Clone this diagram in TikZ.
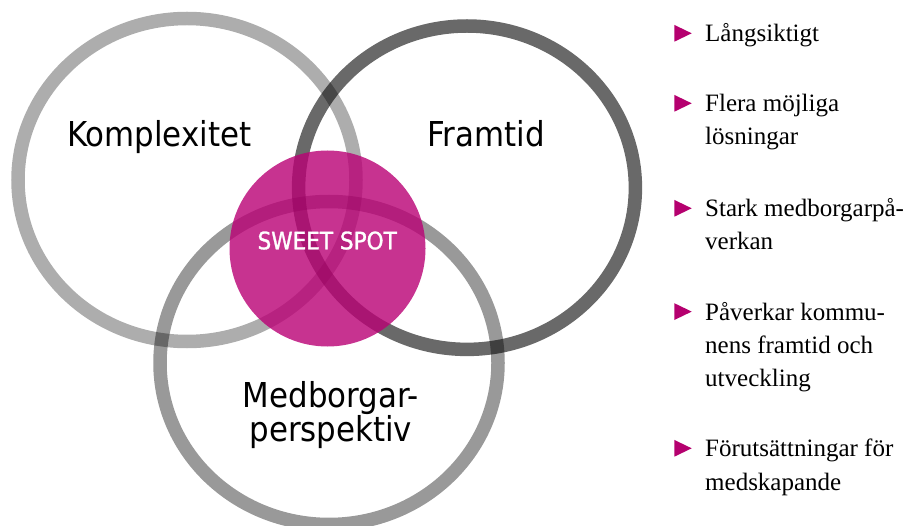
\documentclass[tikz,border=0pt]{standalone}
\usepackage{fontspec}
\setmainfont{Liberation Serif}
\setsansfont{DejaVu Sans Condensed}
\newfontfamily\spotfont[FakeBold=1.2]{DejaVu Sans Condensed}
\usepackage{tikz}
\usetikzlibrary{shapes.geometric, positioning}
\definecolor{SpotMagenta}{HTML}{BA0075}
\definecolor{BulletMagenta}{HTML}{B5006F}
\tikzset{
  % Ring styles
  ring/.style={draw=black, line width=13.5pt},
  lightring/.style={ring, draw opacity=0.32},
  midring/.style={ring, draw opacity=0.40},
  darkring/.style={ring, draw opacity=0.59},
  % Node styles
  spotbox/.style={circle, fill=SpotMagenta, fill opacity=0.8, minimum size=196pt, inner sep=0pt},
  spottext/.style={font=\spotfont\fontsize{24}{28}\selectfont, text=white, inner sep=0pt, anchor=base},
  biglabel/.style={font=\sffamily\fontsize{34.3}{32}\selectfont, inner sep=0pt, text width=220pt, align=center, anchor=base},
  itemtext/.style={font=\fontsize{25}{33.3}\selectfont, inner sep=0pt, text width=210pt, align=flush left, anchor=base west},
  bulletmark/.style={fill=BulletMagenta}
}
% bullet triangle, centred on the given y
\newcommand{\itemmark}[1]{\fill[bulletmark] (674.3,{#1-8.4}) -- (691.7,#1) -- (674.3,{#1+8.4}) -- cycle;}

\begin{document}
\begin{tikzpicture}[x=1pt, y=-1pt]
  \useasboundingbox (0,0) rectangle (912,526);
  \fill[white] (0,0) rectangle (912,526);

  % Circles
  \draw[lightring] (187,180) ellipse [x radius=169pt, y radius=161.5pt];
  \draw[darkring] (467,187.7) ellipse [x radius=168.4pt, y radius=161.7pt];
  \draw[midring] (329,363) ellipse [x radius=169pt, y radius=161.5pt];

  % Sweet spot
  \node[spotbox] (spot) at (327.5,248.5) {};
  \node[spottext] (spotlabel) at (327.2,249.3) {SWEET SPOT};

  % Circle labels
  \node[biglabel] (komplexitet) at (159.2,146.7) {Komplexitet};
  \node[biglabel] (framtid) at (486,146.7) {Framtid};
  \node[biglabel] (medborgar) at (330.8,407) {Medborgar-\\perspektiv};

  % List
  \itemmark{33.3}
  \node[itemtext] (longterm) at (705,41.7) {Långsiktigt};
  \itemmark{103.3}
  \node[itemtext] (solutions) at (705,111.7) {Flera möjliga\\lösningar};
  \itemmark{208.3}
  \node[itemtext] (influence) at (705,216.7) {Stark medborgarpå-\\verkan};
  \itemmark{311.6}
  \node[itemtext] (future) at (705,320) {Påverkar kommu-\\nens framtid och\\utveckling};
  \itemmark{448.3}
  \node[itemtext] (cocreation) at (705,456.7) {Förutsättningar för\\medskapande};
\end{tikzpicture}
\end{document}
